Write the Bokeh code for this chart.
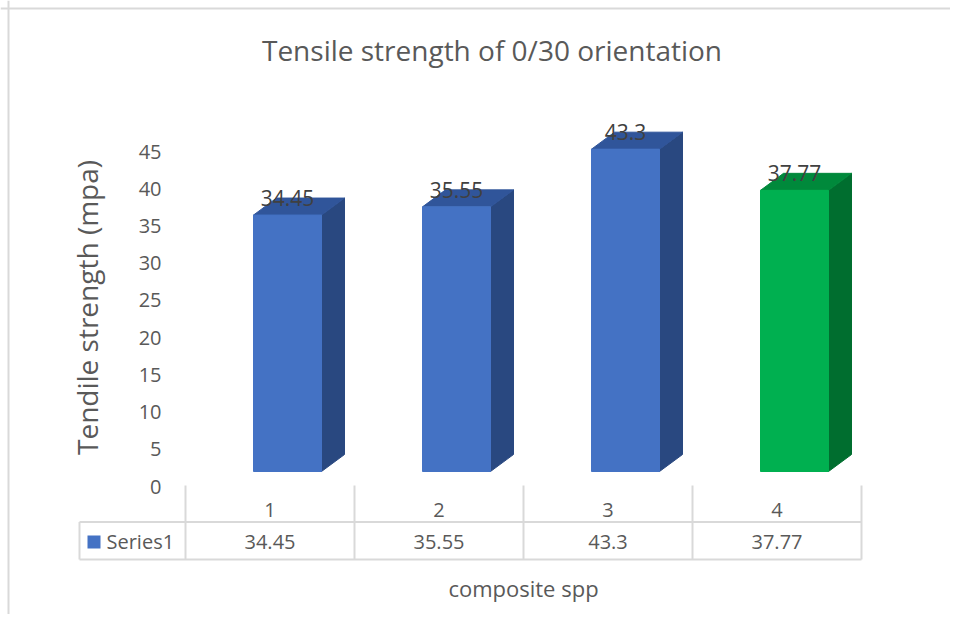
import numpy as np
from bokeh.plotting import figure
from bokeh.models import LinearAxis, FixedTicker, Range1d
from bokeh.core.properties import value
from bokeh.embed import file_html
from bokeh.resources import INLINE

# ---------------- data ----------------
categories = ["1", "2", "3", "4"]
strength = [34.45, 35.55, 43.3, 37.77]
series_name = "Series1"
front_colors = ["#4472C4", "#4472C4", "#4472C4", "#00B050"]
top_colors = ["#30559A", "#30559A", "#30559A", "#00893B"]
side_colors = ["#294880", "#294880", "#294880", "#006E2F"]
y_ticks = [0, 5, 10, 15, 20, 25, 30, 35, 40, 45]
title_text = "Tensile strength of 0/30 orientation"
y_label = "Tendile strength (mpa)"
x_label = "composite spp"

# ---------------- geometry (styles) ----------------
W, H = 950, 614
OX, OY = 0, 0            # observed page offset of the figure
PX_X = 169.0             # pixels per category
PX_Y = 7.444             # pixels per unit of strength
X0_REF = 185             # left boundary of first category (page px)
Y0_REF = 486             # value 0 on the value axis (page px)

xstart = 0.5 - (X0_REF - OX) / PX_X
xend = xstart + W / PX_X
yend = (Y0_REF - OY) / PX_Y
ystart = yend - H / PX_Y


def fx(ref):
    return xstart + (ref - OX) / PX_X


def fy(ref):
    return (Y0_REF - ref) / PX_Y


BAR_BASE = fy(471)
FRONT_OFF = 17.5 / PX_X
FRONT_W = 68 / PX_X
DX = 23 / PX_X
DY = 17 / PX_Y

FONT = value("Open Sans")
GREY = "#595959"
LINE = "#D9D9D9"

p = figure(width=W, height=H, x_range=Range1d(xstart, xend), y_range=Range1d(ystart, yend),
           output_backend="svg", toolbar_location=None, min_border=0,
           x_axis_type=None, y_axis_type=None, outline_line_color=None,
           background_fill_color="white", border_fill_color="white")
p.extra_y_ranges = {"bars": Range1d(ystart - BAR_BASE, yend - BAR_BASE)}

yaxis = LinearAxis(ticker=FixedTicker(ticks=y_ticks), fixed_location=fx(168),
                   axis_line_color=None, major_tick_line_color=None, minor_tick_line_color=None,
                   major_tick_out=0, major_tick_in=0, minor_tick_out=0, minor_tick_in=0,
                   major_label_text_font="Open Sans", major_label_text_font_size="20px",
                   major_label_text_color=GREY, major_label_standoff=7,
                   axis_label=y_label, axis_label_text_font="Open Sans",
                   axis_label_text_font_size="28px", axis_label_text_color=GREY,
                   axis_label_text_font_style="normal", axis_label_standoff=30)
p.add_layout(yaxis, "left")

# ---------------- bars ----------------
cats = np.arange(1, len(categories) + 1, dtype=float)
v = np.array(strength)
L = cats + FRONT_OFF - FRONT_W / 2
R = L + FRONT_W

top_xs = [[l, r, r + DX, l + DX] for l, r in zip(L, R)]
top_ys = [[h, h, h + DY, h + DY] for h in v]
side_xs = [[r, r + DX, r + DX, r] for r in R]
side_ys = [[0, DY, h + DY, h] for h in v]

p.patches(xs=side_xs, ys=side_ys, fill_color=side_colors, line_color=side_colors,
          y_range_name="bars")
p.patches(xs=top_xs, ys=top_ys, fill_color=top_colors, line_color=top_colors,
          y_range_name="bars")
p.quad(left=L, right=R, bottom=0, top=v, fill_color=front_colors, line_color=front_colors,
       y_range_name="bars")

p.text(x=L + FRONT_W / 2, y=v + DY, text=[str(s) for s in strength], y_range_name="bars",
       text_align="center", text_baseline="alphabetic", text_font=FONT,
       text_font_size="21px", text_color="#404040")

# ---------------- data table ----------------
bounds = np.arange(0.5, len(categories) + 1, 1.0)
p.segment(x0=bounds, y0=fy(485), x1=bounds, y1=fy(559), line_color=LINE, line_width=2)
p.segment(x0=[fx(79)], y0=[fy(521.5)], x1=[fx(79)], y1=[fy(559)], line_color=LINE, line_width=2)
p.segment(x0=[fx(79), fx(79)], y0=[fy(521.5), fy(559)], x1=[bounds[-1], bounds[-1]],
          y1=[fy(521.5), fy(559)], line_color=LINE, line_width=2)

p.text(x=cats, y=fy(509), text=categories, text_align="center", text_baseline="middle",
       text_font=FONT, text_font_size="20px", text_color=GREY)
p.text(x=cats, y=fy(541), text=[str(s) for s in strength], text_align="center",
       text_baseline="middle", text_font=FONT, text_font_size="20px", text_color=GREY)
p.scatter(x=[fx(93.5)], y=[fy(541.5)], marker="square", size=13, fill_color=front_colors[0],
          line_color=None)
p.text(x=[fx(106)], y=[fy(541)], text=[series_name], text_align="left", text_baseline="middle",
       text_font=FONT, text_font_size="20px", text_color=GREY)

# ---------------- titles ----------------
p.text(x=[fx(491.5)], y=[fy(49)], text=[title_text], text_align="center", text_baseline="middle",
       text_font=FONT, text_font_size="28px", text_color=GREY)
p.text(x=[(bounds[0] + bounds[-1]) / 2], y=[fy(587)], text=[x_label], text_align="center",
       text_baseline="middle", text_font=FONT, text_font_size="22px", text_color=GREY)

# chart border (top and left edges)
p.segment(x0=[fx(8), xstart], y0=[yend, fy(8)], x1=[fx(8), xend], y1=[ystart, fy(8)],
          line_color=LINE, line_width=2)

open("out.html", "w").write(file_html(p, INLINE))
